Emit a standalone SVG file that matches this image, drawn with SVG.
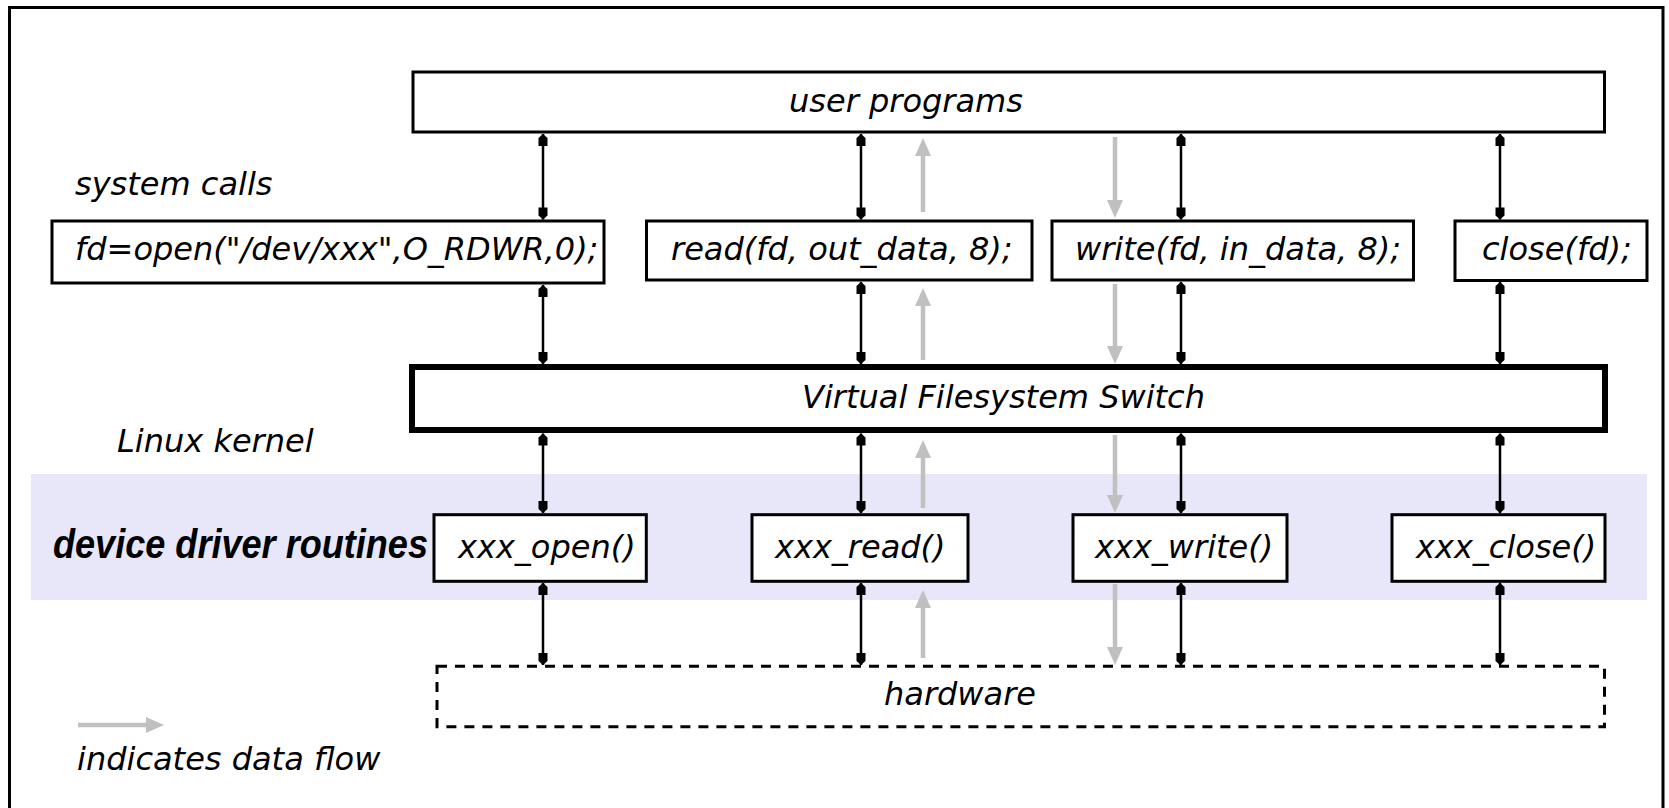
<svg xmlns="http://www.w3.org/2000/svg" width="1669" height="808" viewBox="0 0 1669 808">
  <style>
    .lbl{font-family:"DejaVu Sans","Liberation Sans",sans-serif;font-style:italic;font-size:32px;fill:#000}
    .bold{font-family:"Liberation Sans",Arial,sans-serif;font-style:italic;font-weight:bold;font-size:40px;fill:#000}
    .box{fill:#fff;stroke:#000;stroke-width:3}
    .thick{fill:#fff;stroke:#000;stroke-width:6}
    .dash{fill:none;stroke:#000;stroke-width:3;stroke-dasharray:10 8}
    .call{fill:none;stroke:#000;stroke-width:2.5;marker-start:url(#tick);marker-end:url(#tick)}
    .flow{fill:none;stroke:#c0c0c0;stroke-width:4.5;marker-end:url(#head)}
  </style>
  <defs>
    <!-- small solid head at each end of a call link -->
    <marker id="tick" markerUnits="userSpaceOnUse" viewBox="-13 -6 14 12" markerWidth="14" markerHeight="12" refX="0" refY="0" orient="auto-start-reverse">
      <path d="M0,0 L-4,-4.5 L-12,-4.5 L-12,4.5 L-4,4.5 Z" fill="#000"/>
    </marker>
    <!-- grey data-flow arrowhead, base sits on the line end -->
    <marker id="head" markerUnits="userSpaceOnUse" viewBox="0 -8 18 16" markerWidth="18" markerHeight="16" refX="0" refY="0" orient="auto">
      <path d="M18,0 L0,-8 L0,8 Z" fill="#c0c0c0"/>
    </marker>
  </defs>

  <rect width="1669" height="808" fill="#fff"/>
  <!-- frame -->
  <path d="M9.5,808 V7.5 H1663 V808" fill="none" stroke="#000" stroke-width="3"/>

  <!-- kernel driver band -->
  <rect x="31" y="474" width="1616" height="126" fill="#e7e7f9"/>

  <g id="user-programs">
    <rect class="box" x="413" y="72" width="1191.5" height="60"/>
    <text class="lbl" x="789" y="112">user programs</text>
  </g>

  <g id="label-system-calls">
    <text class="lbl" x="75" y="195">system calls</text>
  </g>

  <g id="sys-open">
    <rect class="box" x="52" y="221" width="552" height="62"/>
    <text class="lbl" x="75" y="260">fd=open("/dev/xxx",O_RDWR,0);</text>
  </g>
  <g id="sys-read">
    <rect class="box" x="646.5" y="221" width="385.5" height="59"/>
    <text class="lbl" x="671" y="260">read(fd, out_data, 8);</text>
  </g>
  <g id="sys-write">
    <rect class="box" x="1052" y="221" width="361.5" height="59"/>
    <text class="lbl" x="1075" y="260">write(fd, in_data, 8);</text>
  </g>
  <g id="sys-close">
    <rect class="box" x="1455" y="221" width="192" height="59.5"/>
    <text class="lbl" x="1482" y="260">close(fd);</text>
  </g>

  <g id="vfs">
    <rect class="thick" x="412" y="367" width="1193" height="63"/>
    <text class="lbl" x="802" y="408">Virtual Filesystem Switch</text>
  </g>

  <g id="label-linux-kernel">
    <text class="lbl" x="117" y="452">Linux kernel</text>
  </g>

  <g id="label-device-driver-routines">
    <text class="bold" x="53" y="558" textLength="375" lengthAdjust="spacingAndGlyphs">device driver routines</text>
  </g>

  <g id="drv-open">
    <rect class="box" x="434" y="514.7" width="212.3" height="66.6"/>
    <text class="lbl" x="458" y="558">xxx_open()</text>
  </g>
  <g id="drv-read">
    <rect class="box" x="752" y="514.7" width="216" height="66.6"/>
    <text class="lbl" x="775" y="558">xxx_read()</text>
  </g>
  <g id="drv-write">
    <rect class="box" x="1073" y="514.7" width="214" height="66.6"/>
    <text class="lbl" x="1095" y="558">xxx_write()</text>
  </g>
  <g id="drv-close">
    <rect class="box" x="1392" y="514.7" width="213" height="66.6"/>
    <text class="lbl" x="1416" y="558">xxx_close()</text>
  </g>

  <g id="hardware">
    <rect class="dash" x="437" y="666.3" width="1167.5" height="60.4"/>
    <text class="lbl" x="884" y="705">hardware</text>
  </g>

  <g id="legend">
    <path class="flow" d="M78,725 H146"/>
    <text class="lbl" x="77" y="770">indicates data flow</text>
  </g>

  <g id="connectors">
    <!-- open -->
    <path class="call" d="M543,134 V219.5"/>
    <path class="call" d="M543,285 V364"/>
    <path class="call" d="M543,433.5 V513"/>
    <path class="call" d="M543,583 V665"/>
    <!-- read -->
    <path class="call" d="M861,134 V219.5"/>
    <path class="call" d="M861,282 V364"/>
    <path class="call" d="M861,433.5 V513"/>
    <path class="call" d="M861,583 V665"/>
    <!-- write -->
    <path class="call" d="M1181,134 V219.5"/>
    <path class="call" d="M1181,282 V364"/>
    <path class="call" d="M1181,433.5 V513"/>
    <path class="call" d="M1181,583 V665"/>
    <!-- close -->
    <path class="call" d="M1500,134 V219.5"/>
    <path class="call" d="M1500,282 V364"/>
    <path class="call" d="M1500,433.5 V513"/>
    <path class="call" d="M1500,583 V665"/>

    <!-- data read from hardware up to the user -->
    <path class="flow" d="M923,658 V608"/>
    <path class="flow" d="M923,508 V458"/>
    <path class="flow" d="M923,360 V306"/>
    <path class="flow" d="M923,212 V156"/>
    <!-- data written from the user down to hardware -->
    <path class="flow" d="M1115,137 V200"/>
    <path class="flow" d="M1115,284 V346"/>
    <path class="flow" d="M1115,435 V495"/>
    <path class="flow" d="M1115,584 V647"/>
  </g>
</svg>
